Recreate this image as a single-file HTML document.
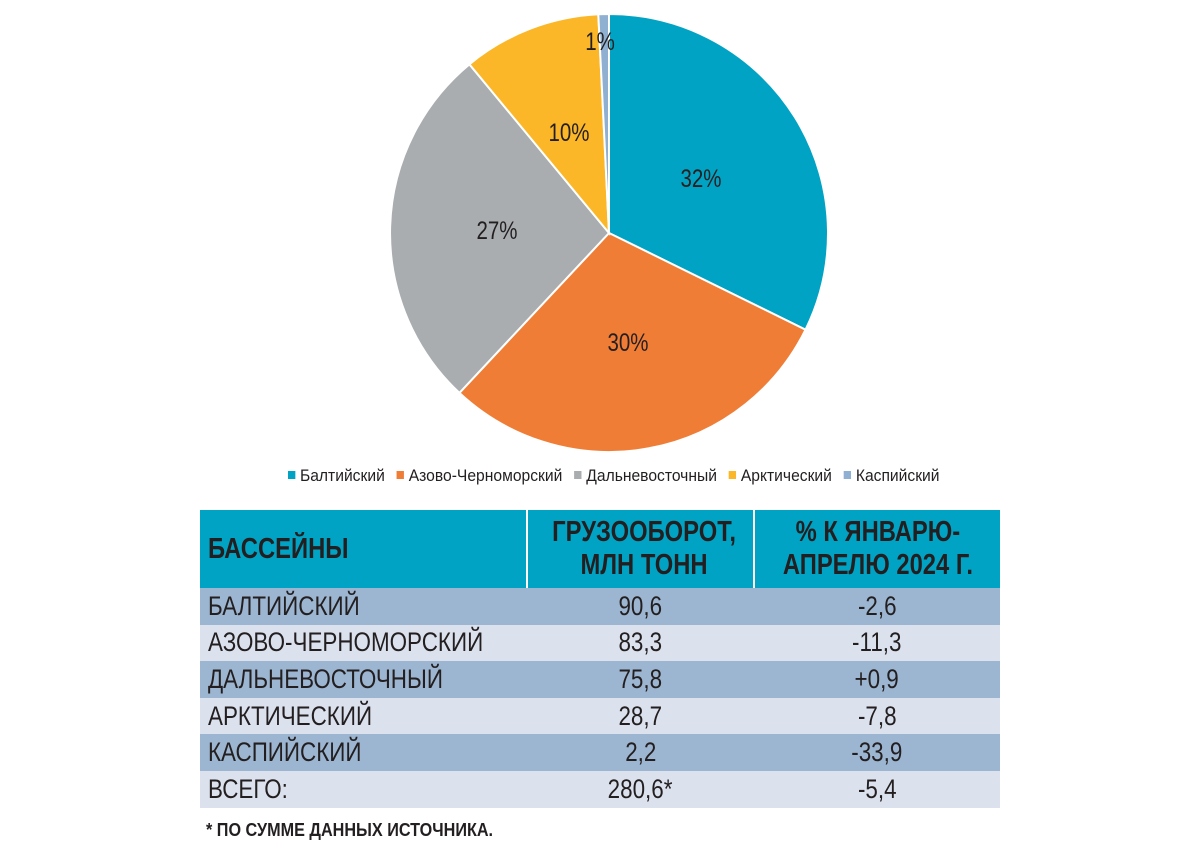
<!DOCTYPE html>
<html><head><meta charset="utf-8"><style>
body{margin:0;width:1200px;height:850px;background:#fff;position:relative;overflow:hidden;font-family:"Liberation Sans",sans-serif;}
.abs{position:absolute}
table{position:absolute;left:200px;top:510px;width:800px;border-collapse:collapse;table-layout:fixed}
td{padding:0 4px;font-size:27px;color:#231f20;border:none;white-space:nowrap;overflow:visible}
td:first-child{padding-left:8px}
.h td{background:#00a3c4;height:78px;font-weight:bold;font-size:29px;line-height:33px}
.h td+td{border-left:2px solid #fff}
.d td{background:#9cb5d0;height:36.6px}
.l td{background:#dbe2ee;height:36.6px}
td.c{text-align:center}
.n{display:inline-block;transform:scaleX(.83);transform-origin:left center}
.h .n{transform:scaleX(.82)}
.c .n{transform-origin:center center}
.leg{position:absolute;top:466px;left:288px;font-size:17px;color:#231f20;white-space:nowrap;transform:scaleX(.92);transform-origin:left top}
.leg span{display:inline-block;width:8px;height:8px;margin:0 5px 2px 0}
.leg b{font-weight:normal;margin-right:13px}
</style></head><body>
<svg class="abs" style="left:0;top:0" width="1200" height="460">
<g stroke="#fff" stroke-width="2">
<path d="M609,233 L609,14 A219,219 0 0 1 805.5,329.7 Z" fill="#00a3c4"/>
<path d="M609,233 L805.5,329.7 A219,219 0 0 1 459.4,392.9 Z" fill="#f07d36"/>
<path d="M609,233 L459.4,392.9 A219,219 0 0 1 469.4,64.3 Z" fill="#a9adb0"/>
<path d="M609,233 L469.4,64.3 A219,219 0 0 1 598.3,14.3 Z" fill="#fbb728"/>
<path d="M609,233 L598.3,14.3 A219,219 0 0 1 609,14 Z" fill="#8fb0d0"/>
</g>
<g font-family="Liberation Sans, sans-serif" font-size="25" fill="#231f20" text-anchor="middle">
<text transform="translate(701,187) scale(.82,1)">32%</text>
<text transform="translate(628,351) scale(.82,1)">30%</text>
<text transform="translate(497,239) scale(.82,1)">27%</text>
<text transform="translate(569,141) scale(.82,1)">10%</text>
<text transform="translate(600,50) scale(.82,1)">1%</text>
</g>
</svg>
<div class="leg"><span style="background:#00a3c4"></span><b>Балтийский</b><span style="background:#f07d36"></span><b>Азово-Черноморский</b><span style="background:#a9adb0"></span><b>Дальневосточный</b><span style="background:#fbb728"></span><b>Арктический</b><span style="background:#8fb0d0"></span><b>Каспийский</b></div>
<table>
<colgroup><col style="width:327px"><col style="width:227px"><col></colgroup>
<tr class="h"><td><span class="n">БАССЕЙНЫ</span></td><td class="c"><span class="n">ГРУЗООБОРОТ,<br>МЛН ТОНН</span></td><td class="c"><span class="n">% К ЯНВАРЮ-<br>АПРЕЛЮ 2024 Г.</span></td></tr>
<tr class="d"><td><span class="n">БАЛТИЙСКИЙ</span></td><td class="c"><span class="n">90,6</span></td><td class="c"><span class="n">-2,6</span></td></tr>
<tr class="l"><td><span class="n">АЗОВО-ЧЕРНОМОРСКИЙ</span></td><td class="c"><span class="n">83,3</span></td><td class="c"><span class="n">-11,3</span></td></tr>
<tr class="d"><td><span class="n">ДАЛЬНЕВОСТОЧНЫЙ</span></td><td class="c"><span class="n">75,8</span></td><td class="c"><span class="n">+0,9</span></td></tr>
<tr class="l"><td><span class="n">АРКТИЧЕСКИЙ</span></td><td class="c"><span class="n">28,7</span></td><td class="c"><span class="n">-7,8</span></td></tr>
<tr class="d"><td><span class="n">КАСПИЙСКИЙ</span></td><td class="c"><span class="n">2,2</span></td><td class="c"><span class="n">-33,9</span></td></tr>
<tr class="l"><td><span class="n">ВСЕГО:</span></td><td class="c"><span class="n">280,6*</span></td><td class="c"><span class="n">-5,4</span></td></tr>
</table>
<div class="abs" style="left:206px;top:820px;font-size:18px;font-weight:bold;color:#231f20;transform:scaleX(.9);transform-origin:left top;white-space:nowrap">* ПО СУММЕ ДАННЫХ ИСТОЧНИКА.</div>
</body></html>
